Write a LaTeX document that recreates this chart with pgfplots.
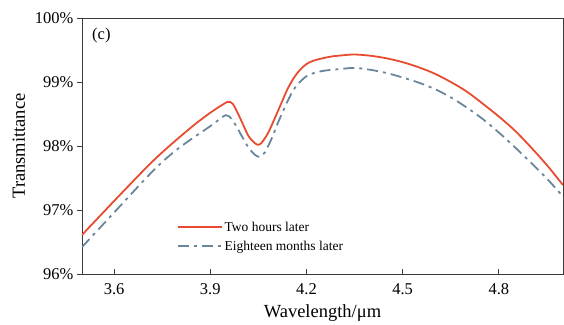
\documentclass[border=0pt]{standalone}
\usepackage{fontspec}
\setmainfont{Liberation Serif}
\usepackage{pgfplots}
\pgfplotsset{compat=1.18}
\definecolor{redline}{RGB}{232,76,48}
\definecolor{blueline}{RGB}{106,134,155}
\definecolor{axisgray}{RGB}{60,60,60}
\begin{document}
\begin{tikzpicture}
\begin{axis}[
  scale only axis, width=481pt, height=256pt,
  xmin=3.5, xmax=5.0, ymin=96, ymax=100,
  axis line style={axisgray, line width=0.9pt},
  xtick={3.6,3.9,4.2,4.5,4.8}, xticklabels={3.6,3.9,4.2,4.5,4.8},
  ytick={96,97,98,99,100}, yticklabels={96\%,97\%,98\%,99\%,100\%},
  xtick pos=bottom, ytick pos=left,
  xtick align=inside, ytick align=outside,
  major tick length=5pt,
  tick style={axisgray, line width=0.9pt},
  ticklabel style={font=\fontsize{16.5}{18}\selectfont},
  xticklabel style={yshift=-6pt},
  xlabel={Wavelength/μm}, ylabel={Transmittance},
  label style={font=\fontsize{18.5}{20}\selectfont},
  xlabel shift=3pt, ylabel shift=3pt,
  legend style={at={(axis cs:3.795,96.85)}, anchor=north west, draw=none, fill=none,
    font=\fontsize{13.5}{15}\selectfont, row sep=4pt, inner sep=0pt},
  legend cell align=left,
  legend image code/.code={\draw[#1] (0pt,0pt) -- (44pt,0pt);},
]
\addplot[redline, line width=1.8pt, smooth, tension=0.5] coordinates {
(3.50,96.61) (3.60,97.14) (3.70,97.66) (3.75,97.90) (3.80,98.12) (3.85,98.33)
(3.90,98.52) (3.94,98.65) (3.955,98.69) (3.97,98.66) (3.99,98.47) (4.00,98.36)
(4.02,98.15) (4.04,98.04) (4.05,98.02) (4.06,98.05) (4.08,98.20) (4.10,98.42)
(4.12,98.65) (4.14,98.88) (4.16,99.06) (4.18,99.19) (4.20,99.28) (4.22,99.33)
(4.25,99.37) (4.28,99.40) (4.32,99.42) (4.35,99.43) (4.40,99.41) (4.45,99.37)
(4.50,99.31) (4.55,99.23) (4.60,99.13) (4.65,99.00) (4.70,98.85) (4.75,98.66)
(4.80,98.46) (4.85,98.24) (4.90,97.98) (4.95,97.70) (5.00,97.39)
};
\addlegendentry{Two hours later}
\addplot[blueline, line width=1.8pt, smooth, tension=0.5, dash pattern=on 11pt off 5pt on 3pt off 5pt] coordinates {
(3.50,96.42) (3.60,96.96) (3.70,97.50) (3.75,97.75) (3.80,97.96) (3.85,98.14)
(3.90,98.31) (3.94,98.46) (3.95,98.48) (3.96,98.46) (3.98,98.32) (4.00,98.14)
(4.02,97.97) (4.04,97.86) (4.055,97.83) (4.07,97.90) (4.09,98.10) (4.11,98.35)
(4.13,98.58) (4.15,98.79) (4.17,98.95) (4.20,99.09) (4.23,99.15) (4.26,99.18)
(4.30,99.20) (4.35,99.22) (4.40,99.19) (4.45,99.14) (4.50,99.07) (4.55,98.99)
(4.60,98.89) (4.65,98.76) (4.70,98.60) (4.75,98.42) (4.80,98.21) (4.85,97.98)
(4.90,97.74) (4.95,97.49) (5.00,97.21)
};
\addlegendentry{Eighteen months later}
\node[anchor=north west, inner sep=0pt, font=\fontsize{16.5}{18}\selectfont] at (rel axis cs:0.0208,0.961) {(c)};
\end{axis}
\path ([shift={(-82pt,-47pt)}]current axis.south west) rectangle ([shift={(1pt,18pt)}]current axis.north east);
\end{tikzpicture}
\end{document}
